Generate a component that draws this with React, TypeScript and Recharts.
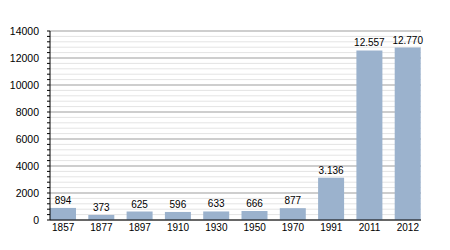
import { BarChart, Bar, XAxis, YAxis, CartesianGrid, LabelList } from "recharts";

const YEARS = ["1857", "1877", "1897", "1910", "1930", "1950", "1970", "1991", "2011", "2012"];
const POPULATION = [894, 373, 625, 596, 633, 666, 877, 3136, 12557, 12770];
const MAJOR_TICKS = [0, 2000, 4000, 6000, 8000, 10000, 12000, 14000];
const MINOR_TICKS = Array.from({ length: 36 }, (_, i) => i * 400);

const data = YEARS.map((year, i) => ({ year, value: POPULATION[i] }));

// 3136 -> "3.136"
const fmtDot = (v: any) => {
  const n = Number(v ?? 0);
  return n >= 1000 ? `${Math.floor(n / 1000)}.${String(n % 1000).padStart(3, "0")}` : String(n);
};

export default function App() {
  return (
    <div style={{ position: "absolute", left: 0, top: 0, background: "#fff" }}>
      <BarChart
        width={450}
        height={250}
        data={data}
        margin={{ top: 31, right: 29, left: 0, bottom: 0 }}
        style={{ fontFamily: "'Liberation Sans', Arial, sans-serif" }}
      >
        <CartesianGrid vertical={false} horizontalValues={MINOR_TICKS} stroke="#e4e4e4" />
        <CartesianGrid vertical={false} horizontalValues={MAJOR_TICKS} stroke="#ababab" />
        <XAxis
          dataKey="year"
          height={30}
          padding={{ left: -6, right: -6 }}
          tickLine={false}
          tickSize={0}
          tickMargin={4}
          axisLine={{ stroke: "#000" }}
          tick={{ fontSize: 10, fill: "#000" }}
        />
        <YAxis
          width={50}
          domain={[0, 14000]}
          ticks={MINOR_TICKS}
          interval={0}
          tickSize={3}
          tickMargin={8}
          tickFormatter={(v: number) => (v % 2000 === 0 ? String(v) : "")}
          axisLine={{ stroke: "#000" }}
          tickLine={{ stroke: "#000" }}
          tick={{ fontSize: 10.5, fill: "#000" }}
        />
        <Bar dataKey="value" fill="#9bb2cd" barSize={26} isAnimationActive={false}>
          <LabelList dataKey="value" position="top" offset={4} formatter={fmtDot} style={{ fontSize: 10, fill: "#000" }} />
        </Bar>
      </BarChart>
    </div>
  );
}
